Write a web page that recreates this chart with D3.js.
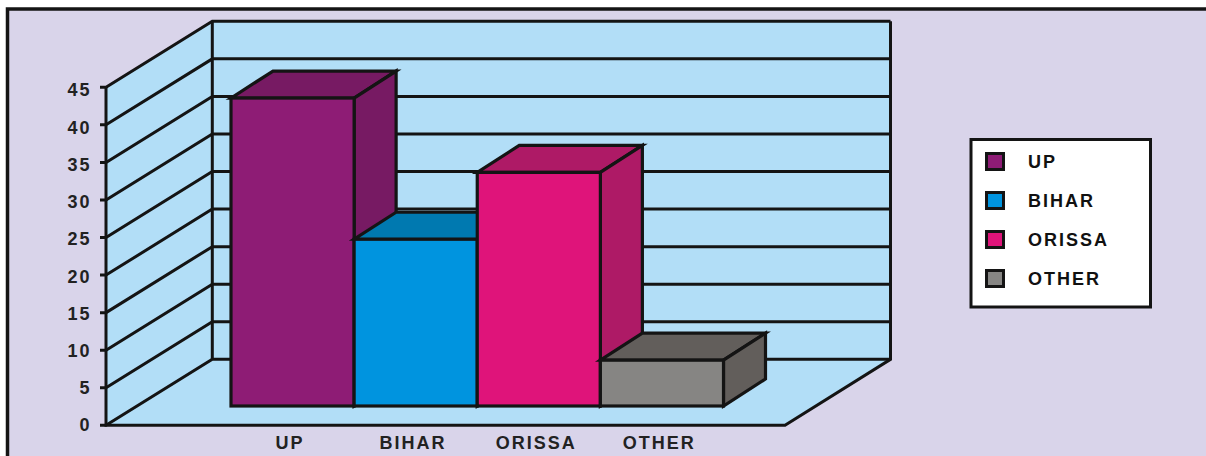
<!DOCTYPE html>
<html><head><meta charset="utf-8">
<script src="https://cdn.jsdelivr.net/npm/d3@7/dist/d3.min.js"></script>
<style>html,body{margin:0;padding:0;background:#fff}svg{display:block}</style>
</head><body><svg id="c" width="1206" height="456"></svg>
<script>
const categories = ["UP","BIHAR","ORISSA","OTHER"];
const values = [41,22.2,31.1,6.1];
const tickValues = [0,5,10,15,20,25,30,35,40,45];
const frontColors = ["#8E1C75","#0094DF","#DF147A","#868583"];
const sideColors = ["#771A63","#0079B0","#AE1A66","#625E5B"];
const INK="#141414", WALL="#B2DEF7", BG="#D9D4EA";

const svg=d3.select("#c").attr("font-family","'Liberation Sans',Arial,sans-serif");
svg.append("rect").attr("x",7.5).attr("y",9).attr("width",1220).attr("height",470)
  .attr("fill",BG).attr("stroke",INK).attr("stroke-width",3.5);

const y0=425.3, yTop=87.3, wallDy=-66, xFront=106, xBack=212.3, xRight=890.5, xFloor=785;
const y=d3.scaleLinear().domain([0,45]).range([y0,yTop]);
const yLabel=d3.scaleLinear().domain([0,45]).range([425,90]);
const poly=p=>d3.line()(p)+"Z";

// walls and floor
const g=svg.append("g").attr("stroke-linejoin","miter");
g.append("path").attr("d",poly([[xBack,y(45)+wallDy],[xRight,y(45)+wallDy],[xRight,y(0)+wallDy],[xFloor,y0],[xFront,y0],[xFront,y(45)]])).attr("fill",WALL);
tickValues.forEach(t=>{
  g.append("path").attr("fill","none").attr("stroke",INK).attr("stroke-width",3)
   .attr("d",d3.line()([[xFront-6,y(t)],[xFront,y(t)],[xBack,y(t)+wallDy],[xRight,y(t)+wallDy]]));
});
g.append("path").attr("stroke",INK).attr("stroke-width",3).attr("fill","none")
 .attr("d",d3.line()([[xBack,y(45)+wallDy],[xBack,y(0)+wallDy]]));
g.append("path").attr("stroke",INK).attr("stroke-width",3).attr("fill","none")
 .attr("d",d3.line()([[xFront,y(45)],[xFront,y0],[xFloor,y0],[xRight,y(0)+wallDy],[xRight,y(45)+wallDy]]));

// y axis labels
svg.append("g").selectAll("text").data(tickValues).join("text")
 .attr("x",91.5).attr("y",d=>yLabel(d)+6.4).attr("text-anchor","end")
 .attr("font-size",18).attr("font-weight",700).attr("letter-spacing",2).attr("fill","#222").text(d=>d);

// bars
const x=d3.scaleBand().domain(categories).range([231,723.5]).padding(0);
const barBase=406, unit=(y0-yTop)/45, dDx=42, dDy=-27;
const h=v=>v*unit;
const bars=svg.append("g").attr("stroke",INK).attr("stroke-width",3.2).attr("stroke-linejoin","miter");
categories.forEach((c,i)=>{
  const l=x(c), r=l+x.bandwidth(), t=barBase-h(values[i]), b=barBase;
  const s=bars.append("g");
  s.append("path").attr("d",poly([[l,t],[r,t],[r+dDx,t+dDy],[l+dDx,t+dDy]])).attr("fill",sideColors[i]);
  s.append("path").attr("d",poly([[r,t],[r+dDx,t+dDy],[r+dDx,b+dDy],[r,b]])).attr("fill",sideColors[i]);
  s.append("rect").attr("x",l).attr("y",t).attr("width",x.bandwidth()).attr("height",h(values[i])).attr("fill",frontColors[i]);
});

// category labels
svg.append("g").selectAll("text").data(categories).join("text")
 .attr("x",d=>x(d)+x.bandwidth()/2-2.6).attr("y",448.8).attr("text-anchor","middle")
 .attr("font-size",18).attr("font-weight",700).attr("letter-spacing",2).attr("fill","#222").text(d=>d);

// legend
const lg=svg.append("g");
lg.append("rect").attr("x",971).attr("y",139.5).attr("width",179.5).attr("height",167.5).attr("fill","#fff").attr("stroke",INK).attr("stroke-width",3);
const ly=d3.scalePoint().domain(categories).range([161.5,278.5]);
categories.forEach((c,i)=>{
  lg.append("rect").attr("x",986.5).attr("y",ly(c)-8).attr("width",17).attr("height",16).attr("fill",frontColors[i]).attr("stroke",INK).attr("stroke-width",3);
  lg.append("text").attr("x",1028).attr("y",ly(c)+6).attr("font-size",18).attr("font-weight",700).attr("letter-spacing",2).attr("fill","#111").text(c);
});
</script></body></html>
